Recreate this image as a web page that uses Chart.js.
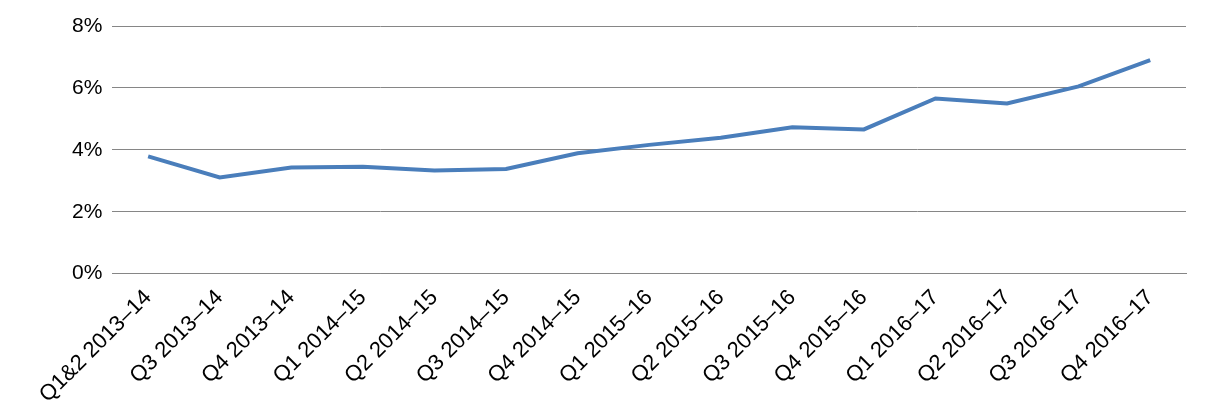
<!DOCTYPE html>
<html><head><meta charset="utf-8">
<script src="https://cdn.jsdelivr.net/npm/chart.js@4"></script>
<style>html,body{margin:0;padding:0;background:#fff}#w{width:1219px;height:419px}</style>
</head><body><div id="w"><canvas id="c"></canvas></div>
<script>
const categories = ["Q1&2 2013–14","Q3 2013–14","Q4 2013–14","Q1 2014–15","Q2 2014–15","Q3 2014–15","Q4 2014–15","Q1 2015–16","Q2 2015–16","Q3 2015–16","Q4 2015–16","Q1 2016–17","Q2 2016–17","Q3 2016–17","Q4 2016–17"];
const values = [3.79,3.11,3.43,3.45,3.33,3.38,3.89,4.16,4.39,4.73,4.66,5.66,5.50,6.05,6.90];
const yTicks = [0,2,4,6,8];
new Chart(document.getElementById('c'),{
  type:'line',
  data:{labels:categories,datasets:[{data:values,borderColor:'#4a7ebb',borderWidth:4,pointRadius:0,tension:0,fill:false}]},
  options:{responsive:true,maintainAspectRatio:false,animation:false,
    layout:{padding:{left:62,right:33,top:26,bottom:8}},
    plugins:{legend:{display:false},tooltip:{enabled:false}},
    scales:{
      x:{offset:true,grid:{display:false},border:{color:'#868686'},
        ticks:{color:'#000',font:{family:'Liberation Sans',size:22},maxRotation:45,minRotation:45,autoSkip:false}},
      y:{min:0,max:8,afterBuildTicks:a=>{a.ticks=yTicks.map(v=>({value:v}));},
        grid:{color:'#868686',drawTicks:false},border:{display:false},
        ticks:{color:'#000',padding:10,font:{family:'Liberation Sans',size:21},callback:v=>v+'%'}}
    }}
});
</script></body></html>
